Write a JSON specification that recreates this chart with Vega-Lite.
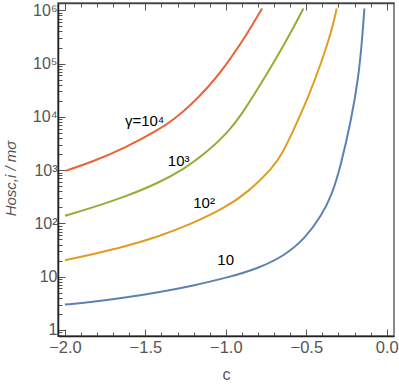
{
  "$schema": "https://vega.github.io/schema/vega-lite/v6.json",
  "autosize": "none",
  "width": 336,
  "height": 333,
  "padding": {"left": 58, "top": 3, "right": 5, "bottom": 49},
  "background": "white",
  "config": {
    "font": "Liberation Sans",
    "view": {"stroke": "#666", "strokeWidth": 1.5}
  },
  "datasets": {
    "curves": [
      {"c": -1.998, "H": 966, "g": "10000"},
      {"c": -1.835, "H": 1406, "g": "10000"},
      {"c": -1.627, "H": 2618, "g": "10000"},
      {"c": -1.420, "H": 5610, "g": "10000"},
      {"c": -1.317, "H": 9226, "g": "10000"},
      {"c": -1.214, "H": 17100, "g": "10000"},
      {"c": -1.110, "H": 35890, "g": "10000"},
      {"c": -1.006, "H": 87100, "g": "10000"},
      {"c": -0.901, "H": 252400, "g": "10000"},
      {"c": -0.839, "H": 508200, "g": "10000"},
      {"c": -0.775, "H": 1081000, "g": "10000"},
      {"c": -2.0, "H": 139, "g": "1000"},
      {"c": -1.835, "H": 195, "g": "1000"},
      {"c": -1.627, "H": 316, "g": "1000"},
      {"c": -1.420, "H": 569, "g": "1000"},
      {"c": -1.255, "H": 1072, "g": "1000"},
      {"c": -1.120, "H": 2138, "g": "1000"},
      {"c": -0.986, "H": 5129, "g": "1000"},
      {"c": -0.901, "H": 11220, "g": "1000"},
      {"c": -0.798, "H": 34670, "g": "1000"},
      {"c": -0.694, "H": 114800, "g": "1000"},
      {"c": -0.590, "H": 412100, "g": "1000"},
      {"c": -0.518, "H": 1081000, "g": "1000"},
      {"c": -2.0, "H": 20.3, "g": "100"},
      {"c": -1.835, "H": 26.0, "g": "100"},
      {"c": -1.627, "H": 36.7, "g": "100"},
      {"c": -1.420, "H": 56.2, "g": "100"},
      {"c": -1.214, "H": 97.7, "g": "100"},
      {"c": -1.006, "H": 195, "g": "100"},
      {"c": -0.860, "H": 389, "g": "100"},
      {"c": -0.709, "H": 1096, "g": "100"},
      {"c": -0.650, "H": 2042, "g": "100"},
      {"c": -0.590, "H": 4786, "g": "100"},
      {"c": -0.487, "H": 23440, "g": "100"},
      {"c": -0.404, "H": 109600, "g": "100"},
      {"c": -0.342, "H": 416900, "g": "100"},
      {"c": -0.311, "H": 1081000, "g": "100"},
      {"c": -2.0, "H": 2.99, "g": "10"},
      {"c": -1.835, "H": 3.33, "g": "10"},
      {"c": -1.627, "H": 4.03, "g": "10"},
      {"c": -1.420, "H": 5.07, "g": "10"},
      {"c": -1.214, "H": 6.68, "g": "10"},
      {"c": -0.986, "H": 9.66, "g": "10"},
      {"c": -0.798, "H": 14.3, "g": "10"},
      {"c": -0.632, "H": 25.1, "g": "10"},
      {"c": -0.508, "H": 52.0, "g": "10"},
      {"c": -0.404, "H": 142.6, "g": "10"},
      {"c": -0.342, "H": 339, "g": "10"},
      {"c": -0.290, "H": 1062, "g": "10"},
      {"c": -0.217, "H": 9910, "g": "10"},
      {"c": -0.176, "H": 56000, "g": "10"},
      {"c": -0.155, "H": 237700, "g": "10"},
      {"c": -0.139, "H": 1081000, "g": "10"}
    ],
    "labels": [
      {"c": -1.505, "H": 8300, "t": "γ=10⁴"},
      {"c": -1.293, "H": 1510, "t": "10³"},
      {"c": -1.135, "H": 237, "t": "10²"},
      {"c": -1.001, "H": 21, "t": "10"}
    ]
  },
  "encoding": {
    "y": {
      "field": "H",
      "type": "quantitative",
      "scale": {"type": "log", "domain": [0.77, 1370000], "nice": false, "zero": false},
      "axis": {
        "orient": "left",
        "title": "Hosc,i / mσ",
        "titleFont": "Liberation Sans",
        "titleFontStyle": "italic",
        "titleFontWeight": "normal",
        "titleFontSize": 15,
        "titleColor": "#555",
        "titleX": -40,
        "titleY": 175,
        "values": [0.8, 0.9, 1, 2, 3, 4, 5, 6, 7, 8, 9, 10, 20, 30, 40, 50, 60, 70, 80, 90, 100, 200, 300, 400, 500, 600, 700, 800, 900, 1000, 2000, 3000, 4000, 5000, 6000, 7000, 8000, 9000, 10000, 20000, 30000, 40000, 50000, 60000, 70000, 80000, 90000, 100000, 200000, 300000, 400000, 500000, 600000, 700000, 800000, 900000, 1000000],
        "labelExpr": "abs(log(datum.value)/LN10 - round(log(datum.value)/LN10)) < 0.000001 ? (datum.value < 5 ? '1' : datum.value < 50 ? '10' : '10' + ['', '', '²', '³', '⁴', '⁵', '⁶'][round(log(datum.value)/LN10)]) : ''",
        "labelFontSize": 16,
        "labelColor": "#555",
        "labelPadding": 8,
        "labelFlush": false,
        "labelOverlap": false,
        "tickSize": {"condition": {"test": "abs(log(datum.value)/LN10 - round(log(datum.value)/LN10)) < 0.000001", "value": -7}, "value": -4},
        "tickColor": "#555",
        "domainColor": "#222",
        "domainWidth": 1.5,
        "grid": false
      }
    }
  },
  "layer": [
    {
      "data": {"name": "curves"},
      "mark": {"type": "line", "strokeWidth": 2, "interpolate": "basis", "clip": true},
      "encoding": {
        "x": {
          "field": "c",
          "type": "quantitative",
          "scale": {"domain": [-2.043, 0.045], "nice": false, "zero": false},
          "axis": {
            "orient": "bottom",
            "title": "c",
            "titleFont": "Liberation Sans",
            "titleFontWeight": "normal",
            "titleFontSize": 16,
            "titleColor": "#555",
            "titlePadding": 8,
            "values": [-2.0, -1.9, -1.8, -1.7, -1.6, -1.5, -1.4, -1.3, -1.2, -1.1, -1.0, -0.9, -0.8, -0.7, -0.6, -0.5, -0.4, -0.3, -0.2, -0.1, 0.0],
            "labelExpr": "abs(datum.value*2 - round(datum.value*2)) < 0.000001 ? format(datum.value, '.1f') : ''",
            "labelFontSize": 16.5,
            "labelColor": "#555",
            "labelPadding": 10,
            "labelFlush": false,
            "labelOverlap": false,
            "tickSize": {"condition": {"test": "abs(datum.value*2 - round(datum.value*2)) < 0.000001", "value": -7}, "value": -4},
            "tickColor": "#555",
            "domainColor": "#222",
            "domainWidth": 1.5,
            "grid": false
          }
        },
        "color": {
          "field": "g",
          "type": "nominal",
          "scale": {"domain": ["10", "100", "1000", "10000"], "range": ["#5E81B5", "#E19C24", "#8FB032", "#EB6235"]},
          "legend": null
        }
      }
    },
    {
      "data": {"name": "labels"},
      "mark": {"type": "text", "fontSize": 15, "font": "Liberation Sans", "color": "black", "align": "center", "baseline": "middle"},
      "encoding": {
        "x": {
          "field": "c",
          "type": "quantitative",
          "scale": {"domain": [-2.043, 0.045], "nice": false, "zero": false},
          "axis": {
            "orient": "top",
            "title": null,
            "values": [-2.0, -1.9, -1.8, -1.7, -1.6, -1.5, -1.4, -1.3, -1.2, -1.1, -1.0, -0.9, -0.8, -0.7, -0.6, -0.5, -0.4, -0.3, -0.2, -0.1, 0.0],
            "labels": false,
            "tickSize": {"condition": {"test": "abs(datum.value*2 - round(datum.value*2)) < 0.000001", "value": -7}, "value": -4},
            "tickColor": "#555",
            "domainColor": "#444",
            "domainWidth": 1.5,
            "grid": false
          }
        },
        "text": {"field": "t", "type": "nominal"}
      }
    }
  ],
  "resolve": {"axis": {"x": "independent"}}
}
